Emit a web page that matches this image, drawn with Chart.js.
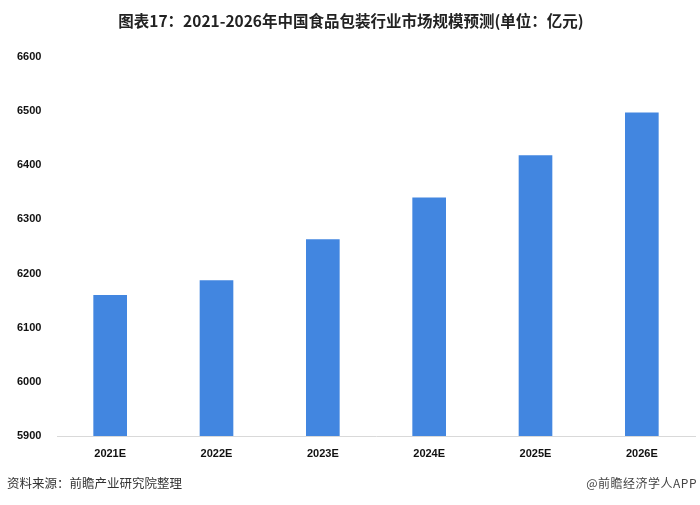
<!DOCTYPE html>
<html>
<head>
<meta charset="utf-8">
<script src="https://cdn.jsdelivr.net/npm/chart.js@4/dist/chart.umd.min.js"></script>
<style>
  body { margin: 0; background: #fff; }
  #wrap { position: relative; width: 700px; height: 505px; font-family: "Noto Sans CJK SC", sans-serif; }
  #title { position: absolute; left: 0; top: 8px; width: 702px; text-align: center; font-size: 15.5px; font-weight: bold; color: #222; line-height: 24px; }
  .foot { position: absolute; top: 474px; font-size: 12.5px; color: #333; line-height: 18px; }
  #src { left: 7px; }
  #brand { right: 3px; font-size: 12px; letter-spacing: 0.5px; color: #444; }
</style>
</head>
<body>
<div id="wrap">
  <canvas id="marketChart" width="700" height="505"></canvas>
  <div id="title">图表17：2021-2026年中国食品包装行业市场规模预测(单位：亿元)</div>
  <div class="foot" id="src">资料来源：前瞻产业研究院整理</div>
  <div class="foot" id="brand">@前瞻经济学人APP</div>
</div>
<script>
// 数据（亿元）
var years = ["2021E", "2022E", "2023E", "2024E", "2025E", "2026E"];
var marketSize = [6160, 6187, 6263, 6340, 6418, 6497];
var yTicks = [5900, 6000, 6100, 6200, 6300, 6400, 6500, 6600];

var barColor = "#4286e0";

function drawMarketChart() {
  var el = document.getElementById("marketChart");
  if (!el) return;
  var ctx = el.getContext("2d");
  new Chart(ctx, {
    type: "bar",
    data: {
      labels: years,
      datasets: [
        {
          data: marketSize,
          backgroundColor: barColor,
          borderWidth: 0,
          barThickness: 33,
        },
      ],
    },
    options: {
      responsive: false,
      animation: false,
      layout: { padding: { left: 17, right: 5, top: 57, bottom: 39 } },
      plugins: {
        legend: { display: false },
        tooltip: { enabled: false },
      },
      scales: {
        x: {
          grid: { display: false },
          border: { display: true, color: "#d9d9d9", width: 1 },
          ticks: {
            padding: 3,
            color: "#111",
            font: { family: "Liberation Sans", size: 11, weight: "bold" },
          },
          afterFit: function (scale) { scale.height = 30; },
        },
        y: {
          min: yTicks[0],
          max: yTicks[yTicks.length - 1],
          grid: { display: false },
          border: { display: false },
          afterBuildTicks: function (scale) {
            scale.ticks = yTicks.map(function (v) { return { value: v }; });
          },
          ticks: {
            crossAlign: "far",
            color: "#111",
            font: { family: "Liberation Sans", size: 11, weight: "bold" },
            callback: function (value) { return String(value); },
          },
          afterFit: function (scale) { scale.width = 40; },
        },
      },
    },
  });
}

drawMarketChart();
</script>
</body>
</html>
